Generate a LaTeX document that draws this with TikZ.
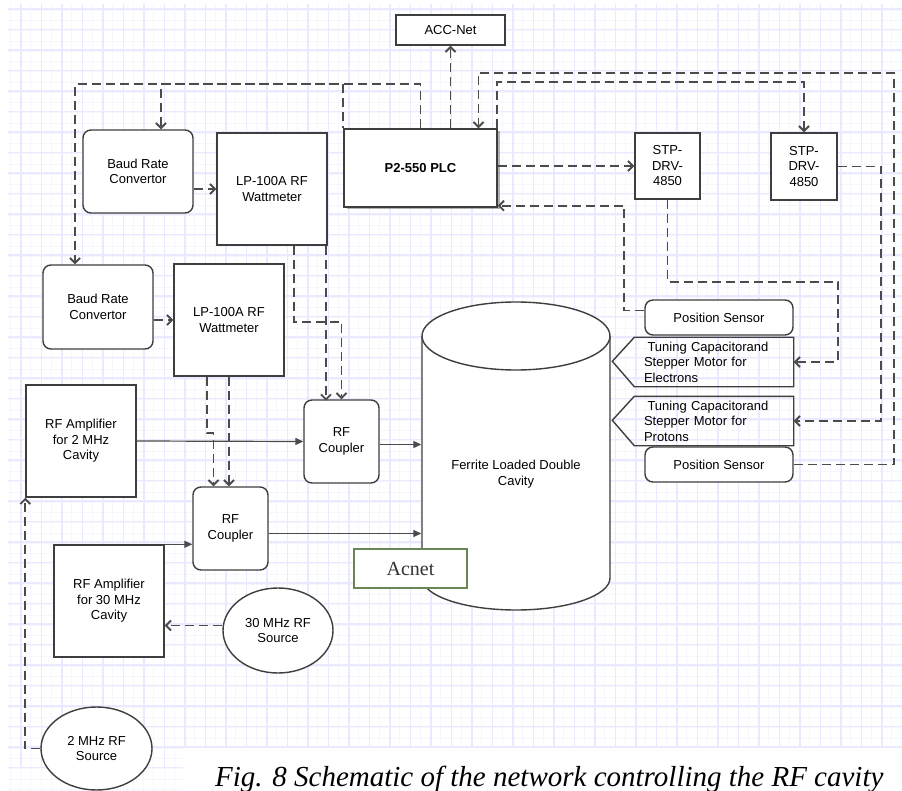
\documentclass[tikz,border=0pt]{standalone}
\usepackage{fontspec}
\setsansfont{Liberation Sans}
\newfontfamily\capfont{Liberation Serif}
\usetikzlibrary{positioning, shapes, arrows.meta, calc, shadows}
\definecolor{boxgray}{RGB}{62,62,62}
\definecolor{linegray}{RGB}{75,75,75}
\definecolor{gridmajor}{RGB}{233,233,255}
\definecolor{gridminor}{RGB}{246,246,255}
\definecolor{acgreen}{RGB}{105,135,85}

\begin{document}
\begin{tikzpicture}[x=1pt, y=-1pt,
  box/.style={draw=boxgray, line width=1.4pt, fill=white, align=center, inner sep=0pt,
    font=\sffamily\fontsize{13}{15.5}\selectfont},
  rbox/.style={box, rounded corners=8pt},
  src/.style={box, ellipse},
  dline/.style={draw=linegray, line width=1.9pt, dash pattern=on 9pt off 5pt,
    -{Straight Barb[length=5pt,width=10pt]}},
  sline/.style={draw=linegray, line width=1.2pt, -{Triangle[length=8pt,width=7pt]}}]
  \useasboundingbox (0,0) rectangle (902,791);
  \fill[white] (0,0) rectangle (902,791);

  % Grid paper
  \draw[gridminor, line width=0.8pt, step=10.25pt] (8,791) grid (902,4);
  \draw[gridmajor, line width=1.1pt, step=20.5pt, shift={(0.5,-11.5)}] (7.5,779.5) grid (901.5,-7.5);
  \fill[white] (183,748) rectangle (902,791);
  \fill[white] (0,0) rectangle (8,791);
  \fill[white] (0,0) rectangle (902,4);

  % Cavity
  \draw[boxgray, line width=1.4pt, fill=white] (422,336) -- (422,578)
    arc[start angle=180, end angle=0, x radius=94, y radius=32] -- (610,336);
  \draw[boxgray, line width=1.4pt, fill=white] (516,336) ellipse[x radius=94, y radius=34];
  \node[box, draw=none, fill=none, minimum width=188] (cav) at (516,474) {Ferrite Loaded Double\\Cavity};

  % Nodes
  \node[box, minimum width=109, minimum height=30] (accnet) at (450.5,30) {ACC-Net};
  \node[box, minimum width=153, minimum height=78, font=\sffamily\bfseries\fontsize{13}{15.5}\selectfont,
    drop shadow={shadow xshift=2.5pt, shadow yshift=-2.5pt, opacity=0.6, fill=gray}] (plc) at (420.5,168) {P2-550 PLC};
  \node[rbox, minimum width=110, minimum height=83] (brc1) at (138,171.5) {Baud Rate\\Convertor};
  \node[box, minimum width=110, minimum height=112] (wm1) at (272,189) {LP-100A RF\\Wattmeter};
  \node[rbox, minimum width=110, minimum height=84] (brc2) at (98,307) {Baud Rate\\Convertor};
  \node[box, minimum width=110, minimum height=112] (wm2) at (229,320) {LP-100A RF\\Wattmeter};
  \node[box, minimum width=110, minimum height=112] (amp2) at (81,441) {RF Amplifier\\for 2 MHz\\Cavity};
  \node[rbox, minimum width=75, minimum height=83] (cpl1) at (341.5,441.5) {RF\\Coupler};
  \node[rbox, minimum width=75, minimum height=83] (cpl2) at (230.5,528.5) {RF\\Coupler};
  \node[box, minimum width=110, minimum height=112] (amp30) at (109,601) {RF Amplifier\\for 30 MHz\\Cavity};
  \node[src, minimum width=110, minimum height=85] (src30) at (278,630.5) {30 MHz RF\\Source};
  \node[src, minimum width=111, minimum height=83] (src2) at (96.5,748.5) {2 MHz RF\\Source};
  \node[draw=acgreen, line width=2pt, fill=white, minimum width=113, minimum height=39,
    text=black!80, font=\capfont\fontsize{20}{24}\selectfont] (acnet) at (410.5,568.5) {Acnet};
  \node[box, minimum width=65, minimum height=66] (stp1) at (667.5,166) {STP-\\DRV-\\4850};
  \node[box, minimum width=66, minimum height=67] (stp2) at (804,166.5) {STP-\\DRV-\\4850};
  \node[rbox, minimum width=148, minimum height=35] (ps1) at (719,317.5) {Position Sensor};
  \node[rbox, minimum width=148, minimum height=35] (ps2) at (719,464.5) {Position Sensor};
  \node[box, draw=none, fill=none, minimum width=158, minimum height=48, text width=140, align=left] (tune1) at (714,362)
    {\hspace{3.5pt}Tuning Capacitorand\\Stepper Motor for\\Electrons};
  \node[box, draw=none, fill=none, minimum width=158, minimum height=48, text width=140, align=left] (tune2) at (714,421)
    {\hspace{3.5pt}Tuning Capacitorand\\Stepper Motor for\\Protons};
  \foreach \t in {tune1,tune2}
  \draw[boxgray, line width=1.4pt] (\t.north east) -- (\t.north west) -- ++(-22,24) -- (\t.south west) -- (\t.south east) -- cycle;

  % Arrows
  \draw[dline] (plc.north -| accnet.south) -- (accnet.south);
  \draw[dline] (plc.north) -- ++(0,-44) -| ([xshift=-23]brc2.north);
  \draw[dline, dash phase=7pt] (plc.north west) -- ++(0,-44) -| ([xshift=23]brc1.north);
  \draw[dline] (ps2.east) -- ++(100,0) -- ++(0,-391.5) -| ([xshift=58]plc.north);
  \draw[dline] ([xshift=-1]plc.north east) -- ++(0,-46) -| (stp2.north);
  \draw[dline] (plc.east |- stp1.west) -- (stp1.west);
  \draw[dline] ([yshift=7]ps1.west) -- ++(-20,0) |- ([yshift=2]plc.south east);
  \draw[dline] (stp1.south) -- ++(0,82) -| ([xshift=44]tune1.east) -- (tune1.east);
  \draw[dline] (stp2.east) -- ++(43,0) |- (tune2.east);
  \draw[dline] (brc1.east |- wm1.west) -- (wm1.west);
  \draw[dline] (brc2.east |- wm2.west) -- (wm2.west);
  \draw[dline] ([xshift=22]wm1.south) -- ++(0,76) -| (cpl1.north);
  \draw[dline] ([xshift=54]wm1.south) -- ++(0,155);
  \draw[dline] ([xshift=-22]wm2.south) -- ++(0,56) -| ([xshift=-17]cpl2.north);
  \draw[dline] (wm2.south) -- (wm2.south |- cpl2.north);
  \draw[dline] ($(src30.west)+(0,-5)$) -- ($(src30.west -| amp30.east)+(0,-5)$);
  \draw[dline] (src2.west) -- ++(-15,0) -- (amp2.south west);
  \draw[sline] (amp2.east) -- (cpl1.west);
  \draw[sline] ($(cpl1.east)+(0,3)$) -- ($(cpl1.east -| cav.west)+(0,3)$);
  \draw[sline] (amp30.north east) -- (amp30.north east -| cpl2.west);
  \draw[sline] ($(cpl2.east)+(0,5)$) -- ($(cpl2.east -| cav.west)+(0,5)$);

  % Caption
  \node[anchor=base west, inner sep=0pt, font=\capfont\itshape\fontsize{29}{34}\selectfont] (cap) at (215,786)
    {Fig. 8 Schematic of the network controlling the RF cavity};
\end{tikzpicture}
\end{document}
